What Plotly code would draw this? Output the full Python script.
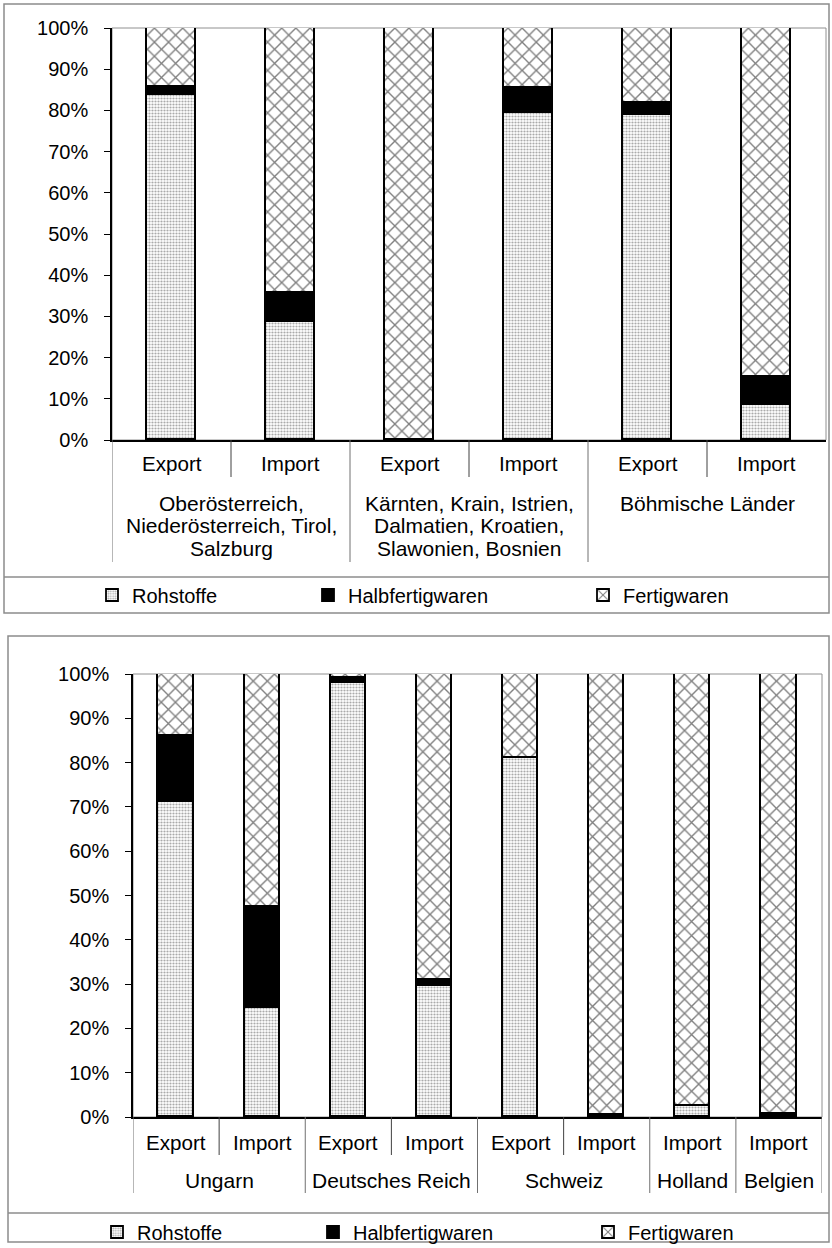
import plotly.graph_objects as go

W, H = 832, 1248

# ---------------- data ----------------
top_sub = ["Export", "Import", "Export", "Import", "Export", "Import"]
top_groups = [
    ["Oberösterreich,", "Niederösterreich, Tirol,", "Salzburg"],
    ["Kärnten, Krain, Istrien,", "Dalmatien, Kroatien,", "Slawonien, Bosnien"],
    ["Böhmische Länder"],
]
top_spans = [2, 2, 2]
top_roh = [83.7, 28.6, 0.0, 79.3, 79.0, 8.5]
top_halb = [2.0, 7.2, 0.0, 6.2, 2.9, 6.7]
top_fert = [14.3, 64.2, 100.0, 14.5, 18.1, 84.8]

bot_sub = ["Export", "Import", "Export", "Import", "Export", "Import", "Import", "Import"]
bot_groups = [["Ungarn"], ["Deutsches Reich"], ["Schweiz"], ["Holland"], ["Belgien"]]
bot_spans = [2, 2, 2, 1, 1]
bot_roh = [71.0, 24.5, 98.0, 29.5, 81.0, 0.0, 2.5, 0.3]
bot_halb = [15.0, 23.0, 1.0, 1.5, 0.0, 0.5, 0.0, 0.3]
bot_fert = [14.0, 52.5, 1.0, 69.0, 19.0, 99.5, 97.5, 99.4]

series_names = ["Rohstoffe", "Halbfertigwaren", "Fertigwaren"]
y_ticks = [0, 10, 20, 30, 40, 50, 60, 70, 80, 90, 100]
y_tick_text = ["0%", "10%", "20%", "30%", "40%", "50%", "60%", "70%", "80%", "90%", "100%"]

# ---------------- helpers ----------------
def px(p):
    return p / W

def py(p):
    return 1 - p / H

FONT = "Liberation Sans, Arial, sans-serif"

patterns = [
    dict(shape=".", fgcolor="#555555", bgcolor="white", size=3, solidity=0.42),
    None,
    dict(shape="x", fgcolor="black", bgcolor="white", size=10, solidity=0.25),
]
colors = ["white", "black", "white"]

fig = go.Figure()

def add_chart(xa, ya, vals, legends):
    n = len(vals[0])
    for k, name in enumerate(series_names):
        marker = dict(color=colors[k], line=dict(color="black", width=1.8))
        if patterns[k] is not None:
            marker["pattern"] = patterns[k]
        fig.add_trace(go.Bar(
            x=list(range(n)), y=vals[k], name=name, width=0.41,
            marker=marker, xaxis=xa, yaxis=ya, legend=legends[k],
            showlegend=True,
        ))

add_chart("x", "y", [top_roh, top_halb, top_fert], ["legend", "legend2", "legend3"])
add_chart("x2", "y2", [bot_roh, bot_halb, bot_fert], ["legend4", "legend5", "legend6"])

# plot geometry (pixels)
T = dict(x0=112, x1=826, y0=440, y1=28)
B = dict(x0=133, x1=822, y0=1117, y1=674)

yaxis_common = dict(
    range=[0, 100], tickmode="array", tickvals=y_ticks, ticktext=y_tick_text,
    showgrid=False,
    showline=True, linecolor="black", linewidth=1.5, ticks="outside",
    ticklen=6, tickcolor="black", tickwidth=1, zeroline=False,
    tickfont=dict(family=FONT, size=20, color="black"),
    ticklabelstandoff=12, fixedrange=True,
)
xaxis_common = dict(
    showgrid=False, showline=True, linecolor="black", linewidth=1.5,
    showticklabels=False, ticks="", zeroline=False, fixedrange=True,
)

fig.update_layout(
    width=W, height=H, margin=dict(l=0, r=0, t=0, b=0, autoexpand=False),
    paper_bgcolor="white", plot_bgcolor="white",
    barmode="stack", bargap=0,
    font=dict(family=FONT, size=20, color="black"),
    xaxis=dict(domain=[px(T["x0"]), px(T["x1"])], range=[-0.5, len(top_sub) - 0.5],
               anchor="y", **xaxis_common),
    yaxis=dict(domain=[py(T["y0"]), py(T["y1"])], anchor="x", **yaxis_common),
    xaxis2=dict(domain=[px(B["x0"]), px(B["x1"])], range=[-0.5, len(bot_sub) - 0.5],
                anchor="y2", **xaxis_common),
    yaxis2=dict(domain=[py(B["y0"]), py(B["y1"])], anchor="x2", **yaxis_common),
)

# legends
leg_common = dict(orientation="h", yanchor="middle", xanchor="left",
                  bgcolor="rgba(0,0,0,0)", borderwidth=0,
                  font=dict(family=FONT, size=20, color="black"))
top_leg_x = [92, 308, 583]
bot_leg_x = [97, 313, 588]
for i, lx in enumerate(top_leg_x):
    key = "legend" if i == 0 else f"legend{i + 1}"
    fig.update_layout(**{key: dict(x=px(lx), y=py(595), **leg_common)})
for i, lx in enumerate(bot_leg_x):
    key = f"legend{i + 4}"
    fig.update_layout(**{key: dict(x=px(lx), y=py(1232), **leg_common)})

shapes = []
annotations = []

def category_axis(xref, geom, subs, groups, spans, sub_y, sub_line_end, grp_line_end,
                  grp_y0, right_sep):
    n = len(subs)
    shapes.append(dict(type="rect", xref="paper", yref="paper",
                       x0=px(geom["x0"]), x1=px(geom["x1"]),
                       y0=py(geom["y0"]), y1=py(geom["y1"]),
                       line=dict(color="#909090", width=1), layer="below"))
    for i, s in enumerate(subs):
        annotations.append(dict(xref=xref, yref="paper", x=i, y=py(sub_y), text=s,
                                showarrow=False, xanchor="center", yanchor="middle",
                                font=dict(family=FONT, size=20.6, color="black")))
    bounds = [0]
    for sp in spans:
        bounds.append(bounds[-1] + sp)
    for i in range(1, n):
        is_grp = i in bounds
        shapes.append(dict(type="line", xref=xref, yref="paper", x0=i - 0.5, x1=i - 0.5,
                           y0=py(geom["y0"]), y1=py(grp_line_end if is_grp else sub_line_end),
                           line=dict(color="#707070" if is_grp else "#404040", width=1)))
    shapes.append(dict(type="line", xref=xref, yref="paper", x0=-0.5, x1=-0.5,
                       y0=py(geom["y0"]), y1=py(grp_line_end),
                       line=dict(color="#707070", width=1)))
    if right_sep:
        shapes.append(dict(type="line", xref=xref, yref="paper", x0=n - 0.5, x1=n - 0.5,
                           y0=py(geom["y0"]), y1=py(grp_line_end),
                           line=dict(color="#707070", width=1)))
    for g, lines in enumerate(groups):
        cx = (bounds[g] + bounds[g + 1] - 1) / 2
        for j, line in enumerate(lines):
            annotations.append(dict(xref=xref, yref="paper", x=cx, y=py(grp_y0 + 22.5 * j),
                                    text=line, showarrow=False, xanchor="center",
                                    yanchor="middle",
                                    font=dict(family=FONT, size=21, color="black")))

category_axis("x", T, top_sub, top_groups, top_spans, 463, 477, 562, 503, False)
category_axis("x2", B, bot_sub, bot_groups, bot_spans, 1142, 1155, 1193, 1180, True)

# outer chart boxes and legend separators
box_col = "#8c8c8c"
shapes.append(dict(type="rect", xref="paper", yref="paper", x0=px(4), x1=px(829),
                   y0=py(613), y1=py(4), line=dict(color=box_col, width=1.5)))
shapes.append(dict(type="line", xref="paper", yref="paper", x0=px(4), x1=px(829),
                   y0=py(577), y1=py(577), line=dict(color=box_col, width=1.5)))
shapes.append(dict(type="rect", xref="paper", yref="paper", x0=px(8), x1=px(829),
                   y0=py(1242), y1=py(636), line=dict(color=box_col, width=1.5)))
shapes.append(dict(type="line", xref="paper", yref="paper", x0=px(8), x1=px(829),
                   y0=py(1213), y1=py(1213), line=dict(color=box_col, width=1.5)))

fig.update_layout(shapes=shapes, annotations=annotations)

fig.write_html("out.html", config={"displayModeBar": False},
               post_script="document.body.style.margin='0px';")
